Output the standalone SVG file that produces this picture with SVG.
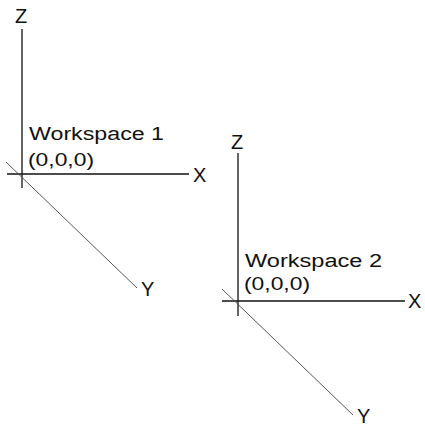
<svg xmlns="http://www.w3.org/2000/svg" width="425" height="427" viewBox="0 0 425 427">
<style>
.ax{stroke:#111;stroke-width:1.3;fill:none}
.dg{stroke:#444;stroke-width:0.9;fill:none}
.lb{font-family:"Liberation Sans",Arial,sans-serif;font-size:20px;fill:#111}
.tx{font-family:"Liberation Sans",Arial,sans-serif;font-size:18px;fill:#111}
</style>
<rect width="425" height="427" fill="#fff"/>
<g id="workspace1">
<line class="ax" x1="22" y1="29" x2="22" y2="188"/>
<line class="ax" x1="7" y1="174" x2="189" y2="174"/>
<line class="dg" x1="6" y1="162" x2="137" y2="288"/>
<text class="lb" x="15" y="23">Z</text>
<text class="lb" x="193" y="182">X</text>
<text class="lb" x="141" y="296">Y</text>
<text class="tx" x="29" y="140" textLength="135" lengthAdjust="spacingAndGlyphs">Workspace 1</text>
<text class="tx" x="28" y="166" textLength="66" lengthAdjust="spacingAndGlyphs">(0,0,0)</text>
</g>
<g id="workspace2">
<line class="ax" x1="238" y1="153" x2="238" y2="316"/>
<line class="ax" x1="222" y1="301" x2="405" y2="301"/>
<line class="dg" x1="222" y1="289" x2="353" y2="415"/>
<text class="lb" x="231" y="149">Z</text>
<text class="lb" x="408" y="308">X</text>
<text class="lb" x="357" y="423">Y</text>
<text class="tx" x="245" y="267" textLength="137" lengthAdjust="spacingAndGlyphs">Workspace 2</text>
<text class="tx" x="244" y="290" textLength="66" lengthAdjust="spacingAndGlyphs">(0,0,0)</text>
</g>
</svg>
